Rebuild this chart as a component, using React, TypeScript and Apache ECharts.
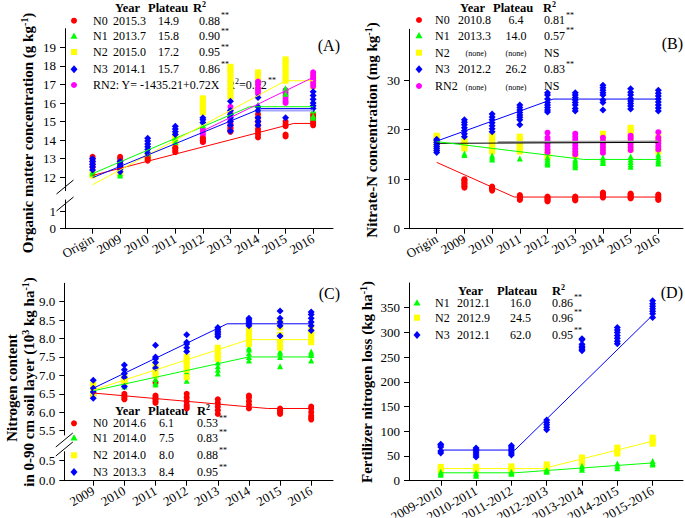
import React, { useEffect, useRef } from 'react';
import * as echarts from 'echarts';

const FONT = 'Liberation Serif, Times New Roman, serif';
const RED = '#ff0000';
const GREEN = '#00ff00';
const YELLOW = '#ffff00';
const BLUE = '#0000ff';
const MAGENTA = '#ff00ff';

// ---------------- Panel A: organic matter (index 0 = Origin)
const catsA = ['Origin', '2009', '2010', '2011', '2012', '2013', '2014', '2015', '2016'];
const aN0 = [
  [12.55, 12.7, 12.85, 13.0, 13.1],
  [12.5, 12.7, 12.85, 13.0, 13.1],
  [12.9, 13.0, 13.1],
  [13.35, 13.45, 13.55, 13.6],
  [13.9, 14.0, 14.1],
  [14.45, 14.55, 14.65, 14.8],
  [14.15, 14.3, 14.45, 14.6, 14.8, 15.0, 15.2, 15.4],
  [14.2, 14.3, 14.75, 14.85, 15.0],
  [14.8, 14.9, 15.0, 15.15, 15.3, 15.4],
];
const aN1 = [
  [12.2, 12.3], [12.1, 12.2], [13.3, 13.5], [13.9, 14.1], [14.8, 15.0],
  [15.3, 15.5], [15.7, 15.9], [16.5, 16.8], [15.2, 15.3, 15.6],
];
const aN2 = [
  [12.1, 12.2],
  [12.2, 12.3, 12.5],
  [13.0, 13.1, 13.2],
  [13.7, 13.85, 14.0, 14.15, 14.3],
  [15.5, 15.65, 15.8, 15.95, 16.1, 16.25],
  [16.35, 16.6, 16.85, 17.1, 17.35, 17.6, 17.8, 17.95],
  [16.9, 17.1, 17.3, 17.5, 17.65],
  [17.2, 17.4, 17.6, 17.8, 18.0, 18.2, 18.35],
  [16.9, 17.1, 17.3, 17.5],
];
const aN3 = [
  [12.4, 12.55, 12.7, 12.85, 13.0],
  [12.3, 12.45, 12.6, 12.75, 12.85],
  [13.3, 13.5, 13.65, 13.8, 13.95, 14.1],
  [14.3, 14.45, 14.6, 14.75],
  [14.95, 15.1, 15.2],
  [14.5, 14.8, 15.0, 15.2, 15.4, 15.6, 16.1],
  [14.8, 15.0, 15.2, 15.6, 15.8, 16.3],
  [15.2],
  [15.7, 15.85, 16.0, 16.2, 16.4, 16.6],
];
const aRN2 = [
  [], [], [], [],
  [13.9, 14.0, 14.15, 14.3, 14.45, 14.6],
  [14.5, 14.7, 14.9, 15.1, 15.3, 15.5, 15.8],
  [16.5, 16.65, 16.8, 17.0, 17.15],
  [16.0, 16.1, 16.25, 16.4, 16.55, 16.7],
  [16.9, 17.05, 17.2, 17.35, 17.5, 17.65],
];
const aFitN0 = [[0, 12.1], [7.3, 14.9], [8, 14.9]];
const aFitN1 = [[0, 12.2], [5.7, 15.8], [8, 15.8]];
const aFitN2 = [[0, 11.6], [7.0, 17.2], [8, 17.2]];
const aFitN3 = [[0, 11.98], [6.1, 15.7], [8, 15.7]];
const aFitN3b = [[6.1, 15.6], [8, 15.6]];
const aFitRN2 = [[4, 14.5], [8, 17.38]];
const aTicksUp = [12, 13, 14, 15, 16, 17, 18, 19];
const aTicksLow = [0, 1];

// ---------------- Panel B: nitrate-N
const catsB = catsA;
const bN0 = [
  [],
  [8.3, 8.6, 8.9, 9.2, 9.5, 9.8, 10.0],
  [7.7, 7.9, 8.1, 8.3, 8.5],
  [5.8, 6.0, 6.2, 6.4, 6.6, 6.8],
  [5.5, 5.7, 5.9, 6.1, 6.3, 6.5],
  [5.7, 5.9, 6.1, 6.3, 6.5],
  [6.3, 6.5, 6.7, 6.9, 7.1, 7.3],
  [6.1, 6.3, 6.5, 6.7, 6.9, 7.1],
  [5.8, 6.0, 6.3, 6.6, 6.9],
];
const bN1 = [
  [17.0, 17.5], [14.9, 15.2], [14.0, 14.4, 14.8], [14.2],
  [13.0, 13.3, 13.6, 14.0, 14.4], [12.4, 12.8, 13.2, 13.6, 14.0],
  [13.3, 13.6, 14.0, 14.4], [12.5, 13.0, 13.5, 14.0, 14.6], [13.2, 13.6, 14.0, 14.5, 15.0],
];
const bN2 = [
  [16.0, 16.5, 17.0, 17.5, 18.0, 18.5, 18.8],
  [16.2, 16.6, 17.0, 17.4, 17.8],
  [15.6, 16.0, 16.5, 17.0, 17.5, 18.0, 18.5, 19.0],
  [15.6, 16.0, 16.5, 17.0, 17.5, 18.0, 18.6],
  [14.5, 15.0, 15.5],
  [14.7, 15.0, 15.4],
  [15.6, 16.0, 17.5, 18.5, 19.2],
  [16.0, 17.5, 18.5, 19.3, 20.0, 20.4],
  [15.6, 16.0, 18.0, 18.5],
];
const bN3 = [
  [15.4, 15.8, 16.2, 16.6, 17.0, 17.4, 17.8, 18.1],
  [18.6, 19.2, 19.8, 20.4, 21.0, 21.5, 22.0],
  [19.6, 20.2, 20.8, 21.4, 22.0, 22.6, 23.2],
  [21.0, 22.0, 22.5, 23.0, 23.5, 24.0, 24.5, 25.0],
  [23.6, 24.0, 24.5, 25.0, 25.5, 26.2, 27.0, 27.5],
  [23.8, 24.3, 25.0, 25.5, 26.0, 26.5, 27.0, 27.5],
  [24.0, 25.5, 26.0, 27.0, 27.5, 28.0, 28.5, 29.0],
  [24.2, 24.8, 25.3, 25.8, 26.3, 27.0, 27.6, 28.3],
  [23.8, 24.4, 25.0, 25.6, 26.2, 26.8, 27.4, 28.0],
];
const bRN2 = [
  [], [], [], [],
  [15.4, 16.0, 16.6, 17.2, 17.8, 18.4, 19.4],
  [15.0, 15.6, 16.2, 16.8, 17.4, 18.0, 18.6, 19.2],
  [15.3, 15.9, 16.5, 17.1, 17.7, 18.4],
  [15.9, 16.5, 17.1, 17.7, 18.3, 18.8],
  [16.0, 16.6, 17.2, 17.8, 18.4, 19.5],
];
const bFitN0 = [[0, 13.4], [2.8, 6.4], [8, 6.4]];
const bFitN1 = [[0, 17.6], [5.3, 14.0], [8, 14.0]];
const bFitN3 = [[0, 17.7], [4.2, 26.2], [8, 26.2]];
const bFitGray = [[2.2, 17.5], [8, 17.6]];
const bFitBlack = [[0, 17.25], [8, 17.45]];
const bTicks = [0, 10, 20, 30];

// ---------------- Panel C: N content 0-90 cm (index 0 = 2009)
const catsC = ['2009', '2010', '2011', '2012', '2013', '2014', '2015', '2016'];
const cN0 = [
  [6.45, 6.5], [6.35, 6.4, 6.45, 6.5], [6.25, 6.3, 6.35, 6.4, 6.45, 6.8],
  [6.1, 6.15, 6.2, 6.3, 6.4, 6.5], [5.95, 6.05, 6.15, 6.25, 6.35],
  [6.1, 6.2, 6.3, 6.4, 6.45], [5.95, 6.0, 6.05, 6.1], [5.8, 5.85, 5.9, 6.0, 6.1, 6.15],
];
const cN1 = [
  [6.55, 6.6], [6.7, 6.75, 6.8], [6.75, 6.8, 6.9, 7.0], [6.85, 7.0, 7.1, 7.2],
  [7.05, 7.15, 7.25, 7.35], [7.4, 7.5, 7.6, 7.7, 7.75], [7.25, 7.5, 7.6, 7.65], [7.4, 7.55, 7.6, 7.65],
];
const cN2 = [
  [6.45, 6.55, 6.65, 6.75], [6.8, 6.85, 6.9, 6.95], [7.0, 7.1, 7.2, 7.3],
  [6.95, 7.15, 7.3, 7.4, 7.5], [7.45, 7.55, 7.65, 7.75], [7.85, 7.95, 8.05, 8.15, 8.25],
  [7.75, 7.9, 8.1, 8.3, 8.45], [7.9, 8.0, 8.1, 8.2, 8.3],
];
const cN3 = [
  [6.38, 6.55, 6.65, 6.87], [6.7, 6.95, 7.05, 7.15, 7.28], [7.2, 7.35, 7.45, 7.5, 7.82],
  [7.65, 7.75, 7.85, 7.9, 8.1], [8.05, 8.1, 8.15, 8.2, 8.25, 8.3], [8.35, 8.4, 8.45, 8.5, 8.55],
  [8.07, 8.35, 8.45, 8.55, 8.75], [8.22, 8.35, 8.45, 8.55, 8.65, 8.72],
];
const cFitN0 = [[0, 6.52], [5.6, 6.1], [7, 6.1]];
const cFitN1 = [[0, 6.58], [5, 7.5], [7, 7.5]];
const cFitN2 = [[0, 6.6], [5, 7.97], [7, 7.97]];
const cFitN3 = [[0, 6.65], [4.3, 8.4], [7, 8.4]];
const cTicksUp = [5.5, 6.0, 6.5, 7.0, 7.5, 8.0, 8.5, 9.0];
const cTicksLow = [0, 0.5];

// ---------------- Panel D: fertilizer N loss
const catsD = ['2009-2010', '2010-2011', '2011-2012', '2012-2013', '2013-2014', '2014-2015', '2015-2016'];
const dN1 = [[12, 15, 18], [10, 13, 16], [14, 16, 18], [18, 20, 22], [22, 26, 30], [25, 30, 35], [33, 36, 40]];
const dN2 = [[20, 24, 28], [20, 24, 28], [20, 24, 29], [22, 27, 33], [35, 40, 47], [55, 60, 67], [75, 80, 87]];
const dN3 = [
  [56, 60, 68, 72, 74], [48, 52, 56, 60, 63, 66], [52, 56, 60, 64, 68, 71],
  [103, 108, 113, 118, 123], [263, 266, 269, 272, 276, 285, 287],
  [277, 282, 288, 294, 300, 305, 310], [330, 338, 343, 348, 353, 358, 364],
];
const dFitN1 = [[0, 16], [2.1, 16], [6, 36]];
const dFitN2 = [[0, 24.5], [2.9, 24.5], [6, 80]];
const dFitN3 = [[0, 62], [2.1, 62], [6, 335]];
const dTicks = [0, 50, 100, 150, 200, 250, 300, 350];

// ---------------- Legend tables
const aRows = [
  { name: 'N0', year: '2015.3', plateau: '14.9', r2: '0.88' },
  { name: 'N1', year: '2013.7', plateau: '15.8', r2: '0.90' },
  { name: 'N2', year: '2015.0', plateau: '17.2', r2: '0.95' },
  { name: 'N3', year: '2014.1', plateau: '15.7', r2: '0.86' },
];
const aRN2Text = 'RN2: Y= -1435.21+0.72X';
const aRN2R2 = '=0.82';
const bRows = [
  { name: 'N0', year: '2010.8', plateau: '6.4', r2: '0.81' },
  { name: 'N1', year: '2013.3', plateau: '14.0', r2: '0.57' },
  { name: 'N2', year: '(none)', plateau: '(none)', r2: 'NS' },
  { name: 'N3', year: '2012.2', plateau: '26.2', r2: '0.83' },
  { name: 'RN2', year: '(none)', plateau: '(none)', r2: 'NS' },
];
const cRows = [
  { name: 'N0', year: '2014.6', plateau: '6.1', r2: '0.53' },
  { name: 'N1', year: '2014.0', plateau: '7.5', r2: '0.83' },
  { name: 'N2', year: '2014.0', plateau: '8.0', r2: '0.88' },
  { name: 'N3', year: '2013.3', plateau: '8.4', r2: '0.95' },
];
const dRows = [
  { name: 'N1', year: '2012.1', plateau: '16.0', r2: '0.86' },
  { name: 'N2', year: '2012.9', plateau: '24.5', r2: '0.96' },
  { name: 'N3', year: '2012.1', plateau: '62.0', r2: '0.95' },
];

const SYM: Record<string, { color: string; symbol: string; size: number }> = {
  N0: { color: RED, symbol: 'circle', size: 6 },
  N1: { color: GREEN, symbol: 'triangle', size: 6 },
  N2: { color: YELLOW, symbol: 'rect', size: 6 },
  N3: { color: BLUE, symbol: 'diamond', size: 7 },
  RN2: { color: MAGENTA, symbol: 'circle', size: 6 },
};

function scatter(key: string, arr: number[][], ai: number) {
  const s = SYM[key];
  return {
    type: 'scatter', name: key, xAxisIndex: ai, yAxisIndex: ai,
    symbol: s.symbol, symbolSize: s.size, itemStyle: { color: s.color, opacity: 1 },
    data: arr.flatMap((vals, i) => vals.map((v) => [i, v])),
    z: 2, silent: true,
  };
}
function fit(data: number[][], ai: number, color: string, width = 1) {
  return {
    type: 'line', xAxisIndex: ai, yAxisIndex: ai, data, symbol: 'none',
    lineStyle: { color, width }, z: 3, silent: true,
  };
}

const axisBase = {
  axisLine: { show: true, onZero: false, lineStyle: { color: '#000', width: 1 } },
  axisTick: { show: true, length: 5, lineStyle: { color: '#000', width: 1 } },
  splitLine: { show: false },
};

function xAxisOf(gi: number, min: number, max: number, cats: string[] | null) {
  if (!cats) return { gridIndex: gi, type: 'value', min, max, show: false };
  const vals = cats.map((_, i) => i);
  return {
    gridIndex: gi, type: 'value', min, max, ...axisBase,
    axisTick: { ...axisBase.axisTick, customValues: vals },
    axisLabel: {
      customValues: vals, rotate: 30, margin: 9, color: '#000', fontFamily: FONT, fontSize: 13,
      formatter: (v: number) => cats[Math.round(v)] ?? '',
    },
  };
}
function yAxisOf(gi: number, min: number, max: number, ticks: number[], dec = 0) {
  return {
    gridIndex: gi, type: 'value', min, max, ...axisBase,
    axisTick: { ...axisBase.axisTick, customValues: ticks },
    axisLabel: {
      customValues: ticks, margin: 9, color: '#000', fontFamily: FONT, fontSize: 13,
      formatter: (v: number) => v.toFixed(dec),
    },
  };
}

function txt(x: number, y: number, text: string, size = 12, bold = false, align = 'left') {
  return {
    type: 'text', x, y, silent: true,
    style: {
      text, fill: '#000', fontFamily: FONT, fontSize: size, fontWeight: bold ? 'bold' : 'normal',
      textAlign: align, textVerticalAlign: 'middle',
    },
  };
}
function marker(key: string, x: number, y: number) {
  const c = SYM[key].color;
  if (key === 'N1') return { type: 'polygon', silent: true, shape: { points: [[x, y - 3.5], [x - 3.5, y + 2.8], [x + 3.5, y + 2.8]] }, style: { fill: c } };
  if (key === 'N2') return { type: 'rect', silent: true, shape: { x: x - 3, y: y - 3, width: 6, height: 6 }, style: { fill: c } };
  if (key === 'N3') return { type: 'polygon', silent: true, shape: { points: [[x, y - 4], [x + 3.5, y], [x, y + 4], [x - 3.5, y]] }, style: { fill: c } };
  return { type: 'circle', silent: true, shape: { cx: x, cy: y, r: 3 }, style: { fill: c } };
}
function vtitle(x: number, y: number, parts: [string, boolean][]) {
  const text = parts.map(([t, sup]) => `{${sup ? 's' : 'b'}|${t}}`).join('');
  return {
    type: 'text', x, y, rotation: Math.PI / 2, silent: true,
    style: {
      text, textAlign: 'center', textVerticalAlign: 'middle',
      rich: {
        b: { fontFamily: FONT, fontWeight: 'bold', fontSize: 15, fill: '#000', color: '#000', lineHeight: 18 },
        s: { fontFamily: FONT, fontWeight: 'bold', fontSize: 10, fill: '#000', color: '#000', verticalAlign: 'top', lineHeight: 18 },
      },
    },
  };
}
function header(y: number, xs: number[]) {
  return [
    txt(xs[0], y, 'Year', 12.5, true),
    txt(xs[1], y, 'Plateau', 12.5, true),
    txt(xs[2], y, 'R', 12.5, true),
    txt(xs[2] + 9, y - 3.5, '2', 8, true),
  ];
}
function tableRows(rows: typeof aRows, ys: number[], cols: { mk: number; nm: number; yr: number; pl: number; plAlign: string; r2: number; sig: number }) {
  const out: any[] = [];
  rows.forEach((r, i) => {
    const y = ys[i];
    out.push(marker(r.name, cols.mk, y));
    out.push(txt(cols.nm, y, r.name));
    if (r.year === '(none)') {
      out.push(txt(cols.yr + 18, y + 1, r.year, 8, false, 'center'));
      out.push(txt(cols.pl, y + 1, r.plateau, 8, false, 'center'));
    } else {
      out.push(txt(cols.yr, y, r.year));
      out.push(txt(cols.pl, y, r.plateau, 12, false, cols.plAlign));
    }
    out.push(txt(cols.r2, y, r.r2));
    if (r.r2 !== 'NS') out.push(txt(cols.sig, y - 5, '**', 8));
  });
  return out;
}

function breakMarks(x: number, y1: number, y2: number) {
  return [
    { type: 'line', silent: true, shape: { x1: x - 8.5, y1: y1 + 7, x2: x + 8.5, y2: y1 - 7 }, style: { stroke: '#000', lineWidth: 1 } },
    { type: 'line', silent: true, shape: { x1: x - 8.5, y1: y2 + 7, x2: x + 8.5, y2: y2 - 7 }, style: { stroke: '#000', lineWidth: 1 } },
  ];
}

function buildOption() {
  const graphic: any[] = [
    ...header(7.5, [115, 148, 193]),
    ...tableRows(aRows, [20.7, 36, 52, 69.3], { mk: 74, nm: 93, yr: 113, pl: 158, plAlign: 'left', r2: 199, sig: 221 }),
    marker('RN2', 74, 85), txt(93, 85, aRN2Text), txt(227, 85, 'R'), txt(235, 81, '2', 8), txt(239, 85, aRN2R2), txt(268, 80, '**', 8),
    txt(340, 45, '(A)', 16, false, 'right'),
    vtitle(28, 133, [['Organic matter concentration (g kg', false], ['-1', true], [')', false]]),
    ...breakMarks(65, 187, 204),

    ...header(7.5, [460, 493, 543]),
    ...tableRows(bRows as any, [20, 35.5, 52.7, 69.3, 86], { mk: 419, nm: 435, yr: 458, pl: 516, plAlign: 'center', r2: 544, sig: 566 }),
    txt(683, 43, '(B)', 16, false, 'right'),
    vtitle(372, 130, [['Nitrate-N concentration (mg kg', false], ['-1', true], [')', false]]),

    ...header(410.5, [115, 148, 197]),
    ...tableRows(cRows, [423.3, 437.7, 455.3, 472], { mk: 74, nm: 93, yr: 113, pl: 159, plAlign: 'left', r2: 197, sig: 219 }),
    txt(340, 293, '(C)', 16, false, 'right'),
    vtitle(12, 388, [['Nitrogen content', false]]),
    vtitle(29, 382, [['in 0-90 cm soil layer (10', false], ['3', true], [' kg ha', false], ['-1', true], [')', false]]),
    ...breakMarks(64.3, 440, 449),

    ...header(290.5, [458, 497, 552]),
    ...tableRows(dRows, [302.7, 317.7, 335], { mk: 417, nm: 435, yr: 457, pl: 510, plAlign: 'left', r2: 552, sig: 574 }),
    txt(683, 292.7, '(D)', 16, false, 'right'),
    vtitle(367, 382, [['Fertilizer nitrogen loss (kg ha', false], ['-1', true], [')', false]]),
  ];

  return {
    animation: false,
    backgroundColor: '#ffffff',
    textStyle: { fontFamily: FONT },
    grid: [
      { left: 65, top: 28.7, width: 268, height: 162, outerBoundsMode: 'none' },
      { left: 65, top: 200, width: 268, height: 28.7, outerBoundsMode: 'none' },
      { left: 409, top: 29.3, width: 274, height: 199.4, outerBoundsMode: 'none' },
      { left: 64.3, top: 283.3, width: 268.7, height: 151.7, outerBoundsMode: 'none' },
      { left: 64.3, top: 451.7, width: 268.7, height: 29, outerBoundsMode: 'none' },
      { left: 409, top: 283, width: 274, height: 197.7, outerBoundsMode: 'none' },
    ],
    xAxis: [
      xAxisOf(0, -1, 8.72, null),
      xAxisOf(1, -1, 8.72, catsA),
      xAxisOf(2, -1, 8.89, catsB),
      xAxisOf(3, -0.93, 7.7, null),
      xAxisOf(4, -0.93, 7.7, catsC),
      xAxisOf(5, -0.9, 6.86, catsD),
    ],
    yAxis: [
      yAxisOf(0, 11.28, 20, aTicksUp),
      yAxisOf(1, 0, 1.65, aTicksLow),
      yAxisOf(2, 0, 40.3, bTicks),
      yAxisOf(3, 5.38, 9.5, cTicksUp, 1),
      yAxisOf(4, 0, 0.702, cTicksLow, 1),
      yAxisOf(5, 0, 400, dTicks),
    ],
    series: [
      scatter('N2', aN2, 0), scatter('RN2', aRN2, 0), scatter('N0', aN0, 0), scatter('N1', aN1, 0), scatter('N3', aN3, 0),
      fit(aFitN3b, 0, '#a6a6ff', 2), fit(aFitN0, 0, RED), fit(aFitN1, 0, GREEN), fit(aFitN2, 0, YELLOW),
      fit(aFitN3, 0, BLUE), fit(aFitRN2, 0, MAGENTA),

      scatter('N2', bN2, 2), scatter('RN2', bRN2, 2), scatter('N1', bN1, 2), scatter('N0', bN0, 2), scatter('N3', bN3, 2),
      fit(bFitGray, 2, '#a0a0a0', 2), fit(bFitBlack, 2, '#000000'), fit(bFitN0, 2, RED), fit(bFitN1, 2, GREEN), fit(bFitN3, 2, BLUE),

      scatter('N0', cN0, 3), scatter('N1', cN1, 3), scatter('N2', cN2, 3), scatter('N3', cN3, 3),
      fit(cFitN0, 3, RED), fit(cFitN1, 3, GREEN), fit(cFitN2, 3, YELLOW), fit(cFitN3, 3, BLUE),

      scatter('N2', dN2, 5), scatter('N1', dN1, 5), scatter('N3', dN3, 5),
      fit(dFitN1, 5, GREEN), fit(dFitN2, 5, YELLOW), fit(dFitN3, 5, BLUE),
    ],
    graphic,
  };
}

export default function App() {
  const ref = useRef<HTMLDivElement>(null);
  useEffect(() => {
    document.body.style.margin = '0';
    if (!ref.current) return;
    const chart = echarts.init(ref.current, null, { renderer: 'svg' });
    chart.setOption(buildOption() as any);
    return () => chart.dispose();
  }, []);
  return <div ref={ref} style={{ width: 685, height: 518, background: '#fff' }} />;
}
